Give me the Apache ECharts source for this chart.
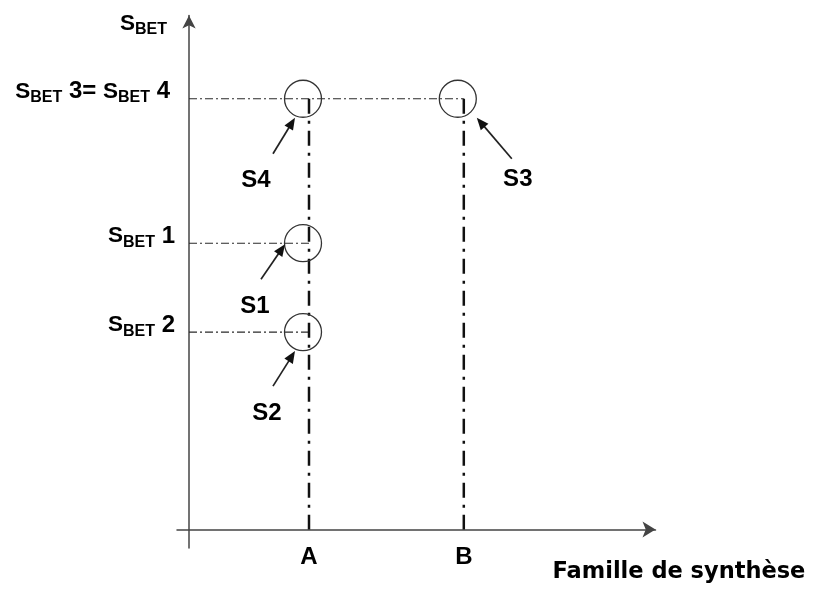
<!DOCTYPE html>
<html>
<head>
<meta charset="utf-8">
<script src="https://cdn.jsdelivr.net/npm/echarts@6/dist/echarts.min.js"></script>
<style>
html,body{margin:0;padding:0;background:#ffffff;}
#chart{width:813px;height:592px;}
</style>
</head>
<body>
<div id="chart"></div>
<script>
// ---- data ----
const families = ['A', 'B'];
const familyX = [1, 2.29];
const sampleIds = [1, 2, 3, 4];
const sampleFamily = ['A', 'A', 'B', 'A'];
const sampleSbet = [5.57, 3.84, 8.38, 8.38];
const xAxisTitle = 'Famille de synthèse';
const yAxisTitle = 'BET';

// ---- style / layout ----
const FONT = '"Liberation Sans", Arial, sans-serif';
const FONT2 = '"DejaVu Sans", Verdana, sans-serif';
const lineColor = '#333333';
const circleOffset = [-6, 0];
// arrow tail, arrow head, label centre – pixel offsets from each circle centre
const annot = {
  1: {tail: [-42, 36], head: [-18, 1], label: [-48, 63]},
  2: {tail: [-30, 54], head: [-8, 19], label: [-36, 81]},
  3: {tail: [54, 60], head: [19, 19], label: [60, 81]},
  4: {tail: [-30, 55], head: [-8, 19], label: [-47, 82]}
};

const xOf = f => familyX[families.indexOf(f)];
const samplePts = sampleIds.map((id, i) => [xOf(sampleFamily[i]), sampleSbet[i], id]);

// unique levels
const levels = [];
sampleSbet.forEach((v, i) => {
  let l = levels.find(o => o.v === v);
  if (!l) { l = {v: v, ids: [], xEnd: 0}; levels.push(l); }
  l.ids.push(sampleIds[i]);
  l.xEnd = Math.max(l.xEnd, xOf(sampleFamily[i]));
});
levels.forEach(l => l.ids.sort((a, b) => a - b));

const rich = {
  s: {fontSize: 22.5, fontWeight: 'bold', fontFamily: FONT, color: '#000', lineHeight: 28},
  b: {fontSize: 16, fontWeight: 'bold', fontFamily: FONT, color: '#000', lineHeight: 19, verticalAlign: 'bottom'},
  n: {fontSize: 24, fontWeight: 'bold', fontFamily: FONT, color: '#000', lineHeight: 28}
};

const Y_MAX = 10, X_MAX = 3.8875;
const series = [];
// horizontal dash-dot lines
levels.forEach(l => {
  series.push({
    type: 'line', silent: true, symbol: 'none', z: 2,
    lineStyle: {color: '#2a2a2a', width: 1.1, type: [8, 3, 2, 3]},
    data: [[0, l.v], [l.xEnd, l.v]]
  });
});
// vertical dash-dot lines
families.forEach(f => {
  const top = Math.max(...sampleSbet.filter((v, i) => sampleFamily[i] === f));
  series.push({
    type: 'line', silent: true, symbol: 'none', z: 2,
    lineStyle: {color: '#111', width: 2.5, type: [15, 7, 3, 7]},
    data: [[xOf(f), top], [xOf(f), 0]]
  });
});
// circles
series.push({
  type: 'scatter', silent: true, z: 5,
  symbol: 'circle', symbolSize: 37, symbolOffset: circleOffset,
  itemStyle: {color: 'rgba(0,0,0,0)', borderColor: lineColor, borderWidth: 1.3, opacity: 1},
  data: samplePts
});
// level labels on y axis (+ the axis title at the top of the axis)
const levelLabelData = levels.map(l => ({
  value: [0, l.v],
  label: {
    show: true, position: 'left', distance: l.ids.length > 1 ? 19 : 14, offset: [0, -7],
    formatter: l.ids.map(id => '{s|S}{b|BET}{n| ' + id + '}').join('{n|= }'),
    rich: rich
  }
}));
levelLabelData.push({
  value: [0, Y_MAX],
  label: {
    show: true, position: 'left', distance: 22, offset: [0, 8],
    formatter: '{s|S}{b|' + yAxisTitle + '}', rich: rich
  }
});
series.push({
  type: 'scatter', silent: true, symbolSize: 0, z: 6,
  itemStyle: {opacity: 1},
  data: levelLabelData
});
// family labels
series.push({
  type: 'scatter', silent: true, symbolSize: 0, z: 6,
  itemStyle: {opacity: 1},
  data: families.map((f, i) => ({value: [familyX[i], 0], name: f})),
  label: {
    show: true, position: 'bottom', distance: 16, formatter: p => p.name,
    fontSize: 24, fontWeight: 'bold', fontFamily: FONT, color: '#000'
  }
});

const chart = echarts.init(document.getElementById('chart'), null, {renderer: 'canvas'});
chart.setOption({
  animation: false,
  backgroundColor: '#ffffff',
  grid: {left: 177, right: 157.5, top: 15.5, bottom: 44, containLabel: false},
  xAxis: {
    type: 'value', min: -0.1, max: X_MAX,
    splitLine: {show: false}, axisTick: {show: false}, axisLabel: {show: false},
    axisLine: {show: true, onZero: true, symbol: ['none', 'arrow'], symbolSize: [12, 13],
      lineStyle: {color: '#444', width: 1.5}}
  },
  yAxis: {
    type: 'value', min: -0.36, max: Y_MAX,
    splitLine: {show: false}, axisTick: {show: false}, axisLabel: {show: false},
    axisLine: {show: true, onZero: true, symbol: ['none', 'arrow'], symbolSize: [10, 13],
      lineStyle: {color: '#444', width: 1.5}}
  },
  series: series
});

// annotation arrows + sample names, anchored to the circles' pixel positions
const graphics = [];
samplePts.forEach(p => {
  const c = chart.convertToPixel({gridIndex: 0}, [p[0], p[1]]);
  const cx = c[0] + circleOffset[0], cy = c[1] + circleOffset[1];
  const a = annot[p[2]];
  const tx = cx + a.tail[0], ty = cy + a.tail[1];
  const hx = cx + a.head[0], hy = cy + a.head[1];
  const dx = hx - tx, dy = hy - ty, len = Math.hypot(dx, dy);
  const ux = dx / len, uy = dy / len, nx = -uy, ny = ux;
  const hl = 12, hw = 5;
  const bx = hx - ux * hl, by = hy - uy * hl;
  graphics.push({
    type: 'line', silent: true, z: 10,
    shape: {x1: tx, y1: ty, x2: bx + ux * 2, y2: by + uy * 2},
    style: {stroke: '#222', lineWidth: 1.7}
  });
  graphics.push({
    type: 'polygon', silent: true, z: 10,
    shape: {points: [[hx, hy], [bx + nx * hw, by + ny * hw], [bx - nx * hw, by - ny * hw]]},
    style: {fill: '#111'}
  });
  graphics.push({
    type: 'text', silent: true, z: 10,
    x: cx + a.label[0], y: cy + a.label[1],
    style: {text: 'S' + p[2], fontSize: 24, fontWeight: 'bold', fontFamily: FONT, fill: '#000',
      align: 'center', verticalAlign: 'middle'}
  });
});
// x-axis title, anchored below the end of the x axis
const axEnd = chart.convertToPixel({gridIndex: 0}, [X_MAX, 0]);
graphics.push({
  type: 'text', silent: true, z: 10,
  x: axEnd[0] - 103, y: axEnd[1] + 43,
  style: {text: xAxisTitle, fontSize: 22.5, fontWeight: 'bold', fontFamily: FONT2, fill: '#000',
    align: 'left', verticalAlign: 'middle'}
});
chart.setOption({graphic: graphics});
</script>
</body>
</html>
